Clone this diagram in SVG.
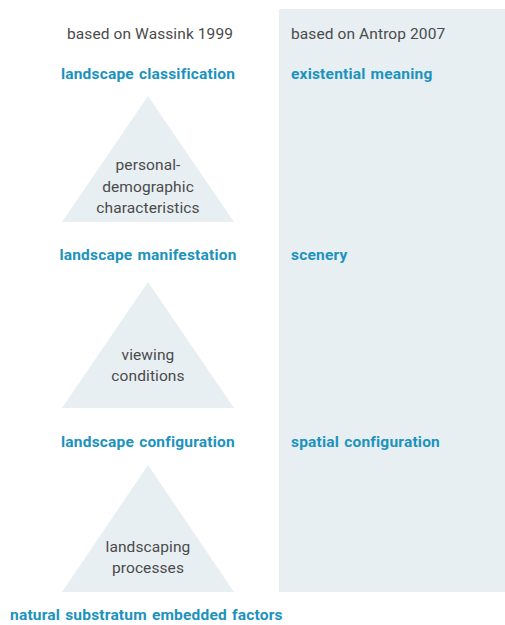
<svg xmlns="http://www.w3.org/2000/svg" width="505" height="625" viewBox="0 0 505 625">
<style>
.bg{fill:#e8eff3}
.tri{fill:#e8eff3}
.n{font-family:Roboto,"Liberation Sans",sans-serif;font-size:15.5px;letter-spacing:0.1px;fill:#4a4a4a}
.b{font-family:Roboto,"Liberation Sans",sans-serif;font-size:15.5px;font-weight:bold;letter-spacing:0.2px;word-spacing:1px;fill:#1c93bd}
.m{text-anchor:middle}
</style>
<rect id="panel" class="bg" x="279" y="9" width="226" height="583"/>
<g id="headers">
<text class="n m" x="150" y="39">based on Wassink 1999</text>
<text class="n" x="291" y="39">based on Antrop 2007</text>
</g>
<g id="level-classification">
<text class="b m" x="148" y="79">landscape classification</text>
<text class="b" x="291" y="79">existential meaning</text>
</g>
<g id="tri-personal">
<polygon class="tri" points="148,96 234,222 62,222"/>
<text class="n m" x="148" y="170">personal-</text>
<text class="n m" x="148" y="192">demographic</text>
<text class="n m" x="148" y="213">characteristics</text>
</g>
<g id="level-manifestation">
<text class="b m" x="148" y="260">landscape manifestation</text>
<text class="b" x="291" y="260">scenery</text>
</g>
<g id="tri-viewing">
<polygon class="tri" points="148,282 234,408 62,408"/>
<text class="n m" x="148" y="360">viewing</text>
<text class="n m" x="148" y="381">conditions</text>
</g>
<g id="level-configuration">
<text class="b m" x="148" y="447">landscape configuration</text>
<text class="b" x="291" y="447">spatial configuration</text>
</g>
<g id="tri-landscaping">
<polygon class="tri" points="148,465 234,592 62,592"/>
<text class="n m" x="148" y="552">landscaping</text>
<text class="n m" x="148" y="573">processes</text>
</g>
<g id="level-natural">
<text class="b" x="10" y="620">natural substratum embedded factors</text>
</g>
<g id="connectors"></g>
</svg>
